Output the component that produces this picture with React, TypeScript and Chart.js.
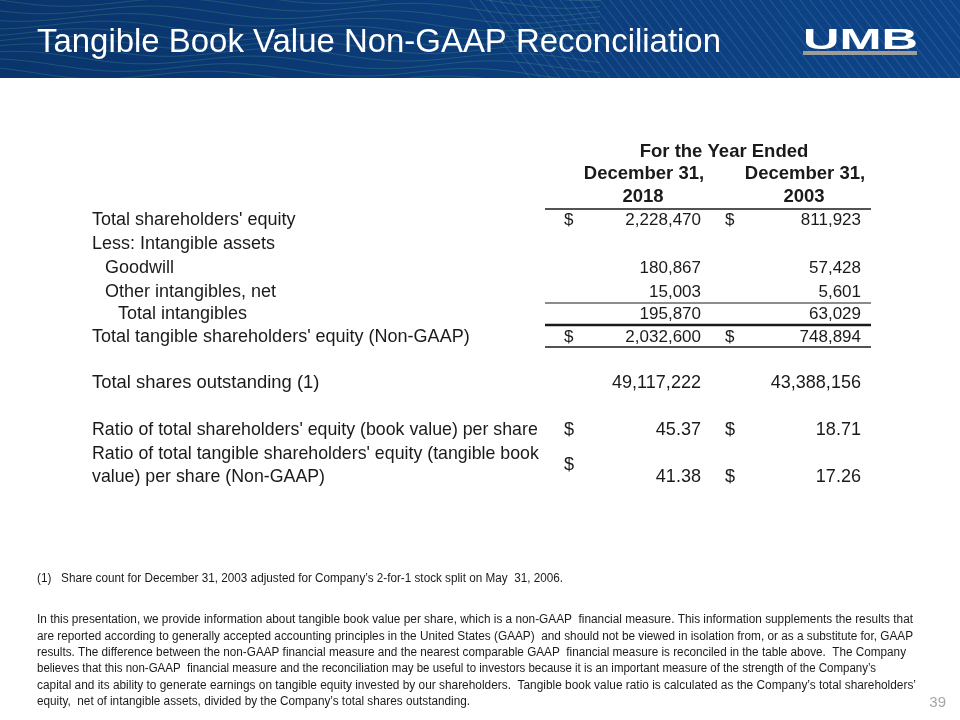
import React, { useEffect, useRef } from "react";
import { Chart, registerables } from "chart.js";

Chart.register(...registerables);

const TITLE = "Tangible Book Value Non-GAAP Reconciliation";
const HEAD_TOP = "For the Year Ended";
const HEAD_COLS = ["December 31,", "December 31,"];
const HEAD_YEARS = ["2018", "2003"];

const ROW_LABELS = [
  "Total shareholders' equity",
  "Less: Intangible assets",
  "Goodwill",
  "Other intangibles, net",
  "Total intangibles",
  "Total tangible shareholders' equity (Non-GAAP)",
  "Total shares outstanding (1)",
  "Ratio of total shareholders' equity (book value) per share",
  "Ratio of total tangible shareholders' equity (tangible book|value) per share (Non-GAAP)",
];
const ROW_INDENT = [0, 0, 1, 1, 2, 0, 0, 0, 0];
const VALUES_2018 = ["2,228,470", "", "180,867", "15,003", "195,870", "2,032,600", "49,117,222", "45.37", "41.38"];
const VALUES_2003 = ["811,923", "", "57,428", "5,601", "63,029", "748,894", "43,388,156", "18.71", "17.26"];
const DOLLAR_2018 = [true, false, false, false, false, true, false, true, true];
const DOLLAR_2003 = [true, false, false, false, false, true, false, true, true];

const FOOTNOTE = "(1)   Share count for December 31, 2003 adjusted for Company\u2019s 2-for-1 stock split on May  31, 2006.";
const PARAGRAPH = [
  "In this presentation, we provide information about tangible book value per share, which is a non-GAAP  financial measure. This information supplements the results that",
  "are reported according to generally accepted accounting principles in the United States (GAAP)  and should not be viewed in isolation from, or as a substitute for, GAAP",
  "results. The difference between the non-GAAP financial measure and the nearest comparable GAAP  financial measure is reconciled in the table above.  The Company",
  "believes that this non-GAAP  financial measure and the reconciliation may be useful to investors because it is an important measure of the strength of the Company\u2019s",
  "capital and its ability to generate earnings on tangible equity invested by our shareholders.  Tangible book value ratio is calculated as the Company\u2019s total shareholders\u2019",
  "equity,  net of intangible assets, divided by the Company\u2019s total shares outstanding.",
];
const PAGE_NUMBER = "39";

const FONT = "'Liberation Sans', Arial, sans-serif";

function squeezed(ctx: CanvasRenderingContext2D, text: string, x: number, y: number, sx: number) {
  ctx.save();
  ctx.translate(x, y);
  ctx.scale(sx, 1);
  ctx.fillText(text, 0, 0);
  ctx.restore();
}

const slidePlugin = {
  id: "slide",
  afterDraw(chart: any) {
    const ctx: CanvasRenderingContext2D = chart.ctx;
    const W = chart.width;
    ctx.save();
    // header band
    const g = ctx.createLinearGradient(0, 0, W, 0);
    g.addColorStop(0, "#0a346c");
    g.addColorStop(1, "#0d4487");
    ctx.fillStyle = g;
    ctx.fillRect(0, 0, W, 78);
    ctx.save();
    ctx.beginPath();
    ctx.rect(0, 0, W, 78);
    ctx.clip();
    // wavy lines (left)
    ctx.strokeStyle = "rgba(80,170,140,0.28)";
    ctx.lineWidth = 1;
    for (let k = -2; k < 12; k++) {
      ctx.beginPath();
      for (let x = 0; x <= 600; x += 4) {
        const y = k * 8 + x * 0.02 + 5 * Math.sin(x / 38 + k * 0.6);
        if (x === 0) ctx.moveTo(x, y);
        else ctx.lineTo(x, y);
      }
      ctx.stroke();
    }
    // diagonal lines (right)
    ctx.strokeStyle = "rgba(140,175,230,0.25)";
    for (let x = 470; x < W + 80; x += 10) {
      ctx.beginPath();
      ctx.moveTo(x, 0);
      ctx.lineTo(x + 60, 78);
      ctx.stroke();
    }
    ctx.restore();

    // title
    ctx.fillStyle = "#ffffff";
    ctx.textBaseline = "alphabetic";
    ctx.textAlign = "left";
    ctx.font = `33px ${FONT}`;
    ctx.fillText(TITLE, 37, 52, 684);

    // logo
    ctx.font = `bold 30px ${FONT}`;
    const lw = ctx.measureText("UMB").width;
    squeezed(ctx, "UMB", 803, 49, 115 / lw);
    ctx.fillStyle = "#9c9c9c";
    ctx.fillRect(803, 51, 114, 4);

    // table header
    ctx.fillStyle = "#1a1a1a";
    ctx.textAlign = "center";
    ctx.textBaseline = "middle";
    ctx.font = `bold 18.5px ${FONT}`;
    ctx.fillText(HEAD_TOP, 724, 152);
    const colC = [644, 805];
    HEAD_COLS.forEach((t, i) => ctx.fillText(t, colC[i], 174));
    HEAD_YEARS.forEach((t, i) => ctx.fillText(t, colC[i] - 1, 197));

    // rows
    const rowY = [220, 244, 268, 292, 314, 337, 383, 430, 477];
    ROW_LABELS.forEach((lab, i) => {
      const lower = i >= 6;
      ctx.textAlign = "left";
      ctx.font = lower ? `19px ${FONT}` : `18px ${FONT}`;
      const x = 92 + ROW_INDENT[i] * 13;
      const parts = lab.split("|");
      const sx = lower ? 0.935 : 1;
      if (parts.length > 1) {
        parts.forEach((p, j) => squeezed(ctx, p, x, 454 + j * 23, sx));
      } else {
        squeezed(ctx, lab, x, rowY[i], i === 6 ? 0.97 : sx);
      }
      const y = rowY[i];
      ctx.font = lower ? `19px ${FONT}` : `17px ${FONT}`;
      const nsx = lower ? 0.95 : 1;
      if (DOLLAR_2018[i]) squeezed(ctx, "$", 564, parts.length > 1 ? 465 : y, nsx);
      if (DOLLAR_2003[i]) squeezed(ctx, "$", 725, y, nsx);
      ctx.textAlign = "right";
      squeezed(ctx, VALUES_2018[i], 701, y, nsx);
      squeezed(ctx, VALUES_2003[i], 861, y, nsx);
    });

    // rules
    ctx.strokeStyle = "#1a1a1a";
    const rule = (y: number, lw2: number) => {
      ctx.lineWidth = lw2;
      ctx.beginPath();
      ctx.moveTo(545, y);
      ctx.lineTo(871, y);
      ctx.stroke();
    };
    rule(209, 1.5);
    rule(303, 1.2);
    rule(325, 2.5);
    rule(347, 1.5);

    // footnotes
    ctx.fillStyle = "#1a1a1a";
    ctx.textAlign = "left";
    ctx.textBaseline = "middle";
    ctx.font = `12px ${FONT}`;
    const fw = ctx.measureText(FOOTNOTE).width;
    ctx.fillText(FOOTNOTE, 37, 579, Math.min(fw, 526));
    const ends = [913, 913, 906, 876, 916, 470];
    PARAGRAPH.forEach((line, i) => {
      const w = ctx.measureText(line).width;
      ctx.fillText(line, 37, 620 + i * 16.3, Math.min(w, ends[i] - 37));
    });
    ctx.fillStyle = "#a6a6a6";
    ctx.font = `15px ${FONT}`;
    ctx.textAlign = "right";
    ctx.fillText(PAGE_NUMBER, 946, 703);
    ctx.restore();
  },
};

export default function App() {
  const ref = useRef<HTMLCanvasElement>(null);
  useEffect(() => {
    document.body.style.margin = "0";
    const chart = new Chart(ref.current!, {
      type: "bar",
      data: { labels: [], datasets: [] },
      options: {
        animation: false,
        responsive: false,
        events: [],
        plugins: { legend: { display: false }, tooltip: { enabled: false } },
        scales: { x: { display: false }, y: { display: false } },
      },
      plugins: [slidePlugin],
    });
    return () => chart.destroy();
  }, []);
  return (
    <div style={{ width: 960, height: 720, background: "#fff" }}>
      <canvas ref={ref} width={960} height={720} style={{ display: "block" }} />
    </div>
  );
}
